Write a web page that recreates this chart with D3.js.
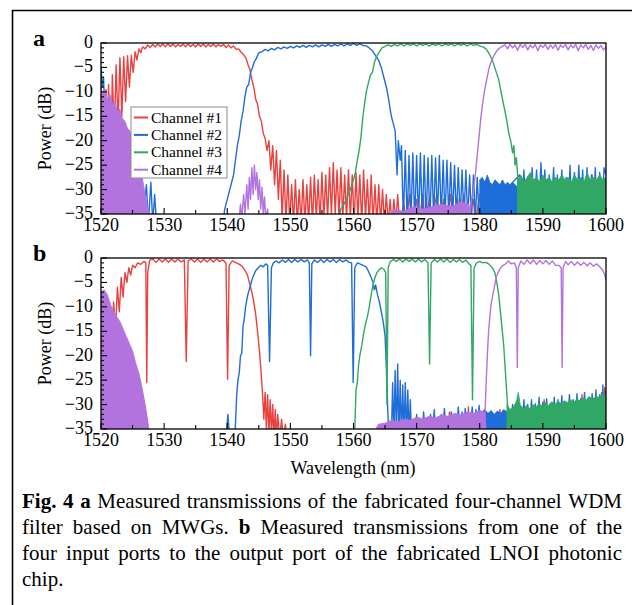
<!DOCTYPE html>
<html>
<head>
<meta charset="utf-8">
<script src="https://cdn.jsdelivr.net/npm/d3@7"></script>
<style>
  body { margin: 0; background: #fff; }
  text { font-family: "Liberation Serif", "Times New Roman", serif; fill: #000; }
</style>
</head>
<body>
<svg id="fig" width="632" height="605"></svg>
<script>
// channel names and colours
const channels = ['Channel #1', 'Channel #2', 'Channel #3', 'Channel #4'];
const colors = ['#e8413f', '#1f6dd8', '#31a766', '#b273de'];

// axis ticks
const xLabels = [1520, 1530, 1540, 1550, 1560, 1570, 1580, 1590, 1600];
const xMinor = [1525, 1535, 1545, 1555, 1565, 1575, 1585, 1595];
const yLabels = [0, -5, -10, -15, -20, -25, -30, -35];

// ---- panel a : [wavelength nm, power dB] ----
const aRed = [[1520,-9],[1520.2,-13],[1520.4,-10],[1520.6,-17],[1520.8,-9.5],[1521,-22],[1521.2,-8.5],[1521.5,-28],[1521.8,-6.5],[1522.1,-19],[1522.4,-4.5],[1522.7,-17],[1523,-3],[1523.3,-15],[1523.6,-2.8],[1523.9,-12],[1524.2,-2.6],[1524.5,-9],[1524.8,-2.5],[1525.1,-6],[1525.4,-1.8],[1525.7,-3.5],[1526,-1.2],[1526.3,-2],[1526.6,-0.8],[1527,-1.2],[1527.4,-0.4],[1527.8,-0.9],[1528.2,-0.3],[1528.6,-0.8],[1529,-0.2],[1529.4,-0.7],[1529.8,-0.2],[1530.2,-0.8],[1530.6,-0.2],[1531,-0.7],[1531.4,-0.2],[1531.8,-0.8],[1532.2,-0.3],[1532.6,-0.7],[1533,-0.2],[1533.4,-0.8],[1533.8,-0.2],[1534.2,-0.7],[1534.6,-0.3],[1535,-0.8],[1535.4,-0.2],[1535.8,-0.7],[1536.2,-0.2],[1536.6,-0.8],[1537,-0.3],[1537.4,-0.7],[1537.8,-0.2],[1538.2,-0.8],[1538.6,-0.3],[1539,-0.7],[1539.4,-0.3],[1539.8,-0.9],[1540.2,-0.4],[1540.6,-1],[1541,-0.6],[1541.4,-1.3],[1541.8,-1.2],[1542.2,-1.9],[1542.6,-2.4],[1543,-3.2],[1543.3,-4.5],[1543.6,-5.5],[1543.9,-7.5],[1544.2,-9],[1544.5,-11.5],[1544.8,-12.5],[1545.1,-15],[1545.4,-16],[1545.7,-18.5],[1546,-19.5],[1546.3,-22],[1546.6,-20],[1546.9,-26],[1547.2,-21],[1547.5,-29],[1547.8,-22],[1548.1,-32],[1548.4,-24],[1548.7,-36],[1549,-26],[1549.3,-37],[1549.6,-27],[1549.9,-37],[1550.2,-29],[1550.5,-37],[1550.8,-28],[1551.1,-37],[1551.4,-30],[1551.7,-37],[1552,-28],[1552.3,-37],[1552.6,-29],[1552.9,-37],[1553.2,-27.5],[1553.5,-37],[1553.8,-27],[1554.1,-36],[1554.4,-28],[1554.7,-37],[1555,-26.5],[1555.3,-36],[1555.6,-27],[1555.9,-36],[1556.2,-25.5],[1556.5,-35],[1556.8,-24.5],[1557.1,-35],[1557.4,-26],[1557.7,-36],[1558,-25.5],[1558.3,-36],[1558.6,-27],[1558.9,-36],[1559.2,-26],[1559.5,-36],[1559.8,-27],[1560.1,-37],[1560.4,-26.5],[1560.7,-36],[1561,-27],[1561.3,-37],[1561.6,-26],[1561.9,-36],[1562.2,-28],[1562.5,-37],[1562.8,-27],[1563.1,-37],[1563.4,-29],[1563.7,-37],[1564,-29],[1564.3,-37],[1564.6,-30],[1564.9,-37],[1565.2,-31],[1565.5,-37],[1565.8,-32],[1566.1,-37],[1566.4,-32],[1566.7,-37],[1567,-31],[1567.3,-37],[1568,-33],[1568.3,-37],[1568.9,-31],[1569.2,-37],[1570,-32],[1570.3,-37],[1571,-31],[1571.3,-37],[1572,-32],[1572.3,-37],[1573.2,-31],[1573.5,-37],[1574.3,-32],[1574.6,-37],[1575.4,-31],[1575.7,-37],[1576.5,-32],[1576.8,-37],[1577.5,-31],[1577.8,-37],[1579,-32],[1579.3,-37],[1580,-31],[1580.3,-37],[1597.5,-37],[1597.8,-27],[1598.1,-37]];

const aBlue = [[1520,-5],[1520.2,-9],[1520.4,-7],[1520.6,-14],[1520.8,-12],[1521,-25],[1521.2,-20],[1521.4,-30],[1521.6,-28],[1521.8,-37],[1524.5,-37],[1524.8,-18.5],[1525.1,-37],[1525.5,-21.5],[1525.8,-37],[1526.3,-25.5],[1526.6,-37],[1527.2,-29],[1527.5,-37],[1527.9,-28.5],[1528.2,-37],[1528.5,-31],[1528.8,-37],[1539.3,-37],[1539.6,-34],[1540,-32],[1540.4,-30],[1540.7,-28.5],[1541,-27],[1541.3,-24],[1541.6,-21],[1541.9,-19],[1542.2,-16],[1542.5,-14],[1542.8,-11],[1543.1,-9],[1543.4,-8.5],[1543.7,-6],[1544,-5],[1544.3,-3.8],[1544.6,-3.2],[1545,-2],[1545.5,-1.8],[1546,-1.3],[1546.5,-1.6],[1547,-1.1],[1547.5,-1.4],[1548,-0.9],[1548.5,-1.2],[1549,-0.8],[1549.5,-1.1],[1550,-0.7],[1550.5,-1],[1551,-0.6],[1551.5,-0.9],[1552,-0.5],[1552.5,-0.9],[1553,-0.5],[1553.5,-0.8],[1554,-0.4],[1554.5,-0.8],[1555,-0.4],[1555.5,-0.7],[1556,-0.3],[1556.5,-0.7],[1557,-0.3],[1557.5,-0.6],[1558,-0.2],[1558.5,-0.6],[1559,-0.2],[1559.5,-0.5],[1560,-0.1],[1560.5,-0.5],[1561,-0.2],[1561.5,-0.5],[1562,-0.6],[1562.4,-0.9],[1563,-1.6],[1563.5,-2.6],[1564,-3.6],[1564.4,-5],[1564.8,-7],[1565.2,-9],[1565.5,-11],[1565.8,-13.5],[1566,-15],[1566.3,-16.5],[1566.6,-18],[1566.9,-27],[1567.1,-20],[1567.4,-24],[1567.6,-21],[1567.9,-37],[1568.2,-22],[1568.5,-37],[1568.8,-23],[1569.1,-37],[1569.4,-22.5],[1569.7,-37],[1570,-23],[1570.3,-37],[1570.6,-22.5],[1570.9,-37],[1571.2,-23],[1571.5,-37],[1571.8,-23.5],[1572.1,-37],[1572.4,-23],[1572.7,-36],[1573,-23.5],[1573.3,-36],[1573.6,-23],[1573.9,-36],[1574.2,-24],[1574.5,-36],[1574.8,-24],[1575.1,-36],[1575.4,-24.5],[1575.7,-36],[1576,-25],[1576.3,-36],[1576.6,-25.5],[1576.9,-36],[1577.2,-26],[1577.5,-36],[1577.8,-26],[1578.1,-36],[1578.4,-27],[1578.7,-36],[1579,-27],[1579.3,-36],[1579.6,-27.5],[1579.9,-36],[1586.3,-27],[1586.6,-36],[1587,-26],[1587.3,-36],[1587.7,-27.5],[1588,-36],[1588.3,-25.5],[1588.6,-36],[1589,-26],[1589.3,-36],[1589.7,-24.5],[1590,-36],[1590.3,-26],[1590.6,-36],[1591,-27],[1591.3,-36],[1591.7,-25.5],[1592,-36],[1592.3,-27],[1592.6,-36],[1593,-26],[1593.3,-36],[1593.7,-27.5],[1594,-36],[1594.3,-25],[1594.6,-36],[1595,-26.5],[1595.3,-36],[1595.7,-25],[1596,-36],[1596.3,-26],[1596.6,-36],[1597,-25.5],[1597.3,-36],[1597.7,-27],[1598,-36],[1598.3,-25.5],[1598.6,-36],[1599,-26.5],[1599.3,-36],[1599.7,-25.5],[1600,-27]];
const aBlueBlock = [[1580,-28],[1580.4,-27.5],[1580.8,-28.5],[1581.2,-27],[1581.6,-28.5],[1582,-29],[1582.4,-28],[1582.8,-28.5],[1583.2,-29],[1583.6,-28],[1584,-29],[1584.4,-28.5],[1584.8,-29],[1585.2,-28.5],[1585.6,-29],[1586,-29.5]];

const aGreen = [[1520,-25],[1520.2,-37],[1520.4,-26],[1520.6,-35],[1520.8,-27],[1521,-37],[1524.8,-37],[1525.1,-16],[1525.4,-37],[1525.7,-18.5],[1526,-37],[1526.3,-22],[1526.6,-37],[1557.5,-37],[1558,-34],[1558.5,-33],[1559,-31.5],[1559.5,-30],[1560,-28],[1560.3,-26.5],[1560.6,-24],[1560.9,-22],[1561.2,-19],[1561.5,-15],[1561.8,-12],[1562.1,-9.5],[1562.4,-8],[1562.7,-6.5],[1563,-6],[1563.3,-4],[1563.6,-3],[1564,-2],[1564.5,-1],[1565,-0.7],[1565.5,-0.4],[1566,-0.7],[1566.5,-0.3],[1567,-0.6],[1567.5,-0.2],[1568,-0.6],[1568.5,-0.2],[1569,-0.5],[1569.5,-0.2],[1570,-0.6],[1570.5,-0.2],[1571,-0.5],[1571.5,-0.2],[1572,-0.6],[1572.5,-0.2],[1573,-0.5],[1573.5,-0.2],[1574,-0.6],[1574.5,-0.2],[1575,-0.5],[1575.5,-0.2],[1576,-0.6],[1576.5,-0.2],[1577,-0.5],[1577.5,-0.2],[1578,-0.6],[1578.5,-0.2],[1579,-0.5],[1579.5,-0.3],[1580,-0.6],[1580.5,-0.8],[1581,-1.2],[1581.5,-2.2],[1582,-3.5],[1582.5,-5.5],[1583,-7.5],[1583.3,-9.5],[1583.6,-11.5],[1584,-14],[1584.3,-16],[1584.6,-18.5],[1584.9,-20],[1585.2,-22.5],[1585.4,-21],[1585.6,-25],[1585.8,-23.5],[1586,-27],[1586.2,-37]];
const aGreenBlock = [[1586,-28],[1586.5,-27],[1587,-28.5],[1587.5,-27.5],[1588,-26.5],[1588.5,-28],[1589,-27.5],[1589.5,-28.5],[1590,-27],[1590.5,-28],[1591,-27.5],[1591.5,-28.5],[1592,-27.5],[1592.5,-28],[1593,-27],[1593.5,-28],[1594,-27.5],[1594.5,-28.5],[1595,-27],[1595.5,-28],[1596,-27.5],[1596.5,-28.5],[1597,-26.5],[1597.5,-28],[1598,-27.5],[1598.5,-28],[1599,-27],[1599.5,-28],[1600,-27.5]];

const aPurple = [[1541.8,-37],[1542.1,-33],[1542.3,-36],[1542.6,-31],[1542.8,-35],[1543.1,-29],[1543.3,-34],[1543.5,-27.5],[1543.7,-32],[1543.9,-25.5],[1544.1,-31],[1544.3,-25],[1544.5,-30],[1544.7,-26.5],[1544.9,-32],[1545.1,-28],[1545.3,-34],[1545.5,-29.5],[1545.7,-35],[1545.9,-31.5],[1546.1,-36],[1546.4,-34],[1546.6,-37],[1578.3,-37],[1578.6,-33],[1579,-30],[1579.3,-27],[1579.6,-23],[1579.9,-19],[1580.2,-15],[1580.5,-12],[1580.8,-9.5],[1581.1,-7.5],[1581.5,-5],[1581.9,-3.5],[1582.3,-2.5],[1582.7,-1.6],[1583.2,-1],[1583.7,-0.6],[1584,-0.4],[1584.4,-1.2],[1584.8,-0.3],[1585.2,-1],[1585.6,-0.4],[1586,-1.5],[1586.4,-0.3],[1586.8,-0.9],[1587.2,-0.3],[1587.6,-1.4],[1588,-0.4],[1588.4,-1],[1588.8,-0.3],[1589.2,-1.6],[1589.6,-0.4],[1590,-0.9],[1590.4,-0.3],[1590.8,-1.3],[1591.2,-0.4],[1591.6,-1.1],[1592,-0.3],[1592.4,-1.5],[1592.8,-0.4],[1593.2,-0.9],[1593.6,-0.3],[1594,-1.4],[1594.4,-0.4],[1594.8,-1],[1595.2,-0.3],[1595.6,-1.6],[1596,-0.4],[1596.4,-1],[1596.8,-0.3],[1597.2,-1.3],[1597.6,-0.5],[1598,-1.5],[1598.4,-0.4],[1598.8,-1.1],[1599.2,-0.5],[1599.6,-1.4],[1600,-0.8]];
const aPurpleLeft = [[1520,-9],[1520.3,-11],[1520.6,-9.5],[1521,-11.5],[1521.4,-10.5],[1521.8,-12.5],[1522.2,-12],[1522.6,-14],[1523,-13.5],[1523.4,-15.5],[1523.8,-16],[1524.2,-17.5],[1524.6,-18],[1525,-20],[1525.4,-21.5],[1525.8,-24],[1526.2,-25.5],[1526.6,-28],[1527,-31],[1527.3,-33],[1527.6,-35]];
const aPurpleFloor = [[1566,-35],[1566.5,-34],[1568,-34.5],[1569.5,-33.5],[1571,-34],[1572.5,-33.5],[1574,-33],[1575.5,-33.5],[1577,-32.5],[1578.3,-33],[1578.6,-35]];

// ---- panel b ----
const bRed = [[1520.5,-37],[1520.8,-14],[1521.1,-20],[1521.4,-12],[1521.7,-15],[1522,-9],[1522.3,-15],[1522.6,-6],[1522.9,-11],[1523.2,-4],[1523.5,-8],[1523.8,-3],[1524.1,-5],[1524.4,-2],[1524.7,-3.5],[1525,-1.5],[1525.4,-2],[1525.8,-1],[1526.3,-1.3],[1526.8,-0.7],[1527.1,-1],[1527.25,-25.5],[1527.4,-3],[1527.7,-0.5],[1528.2,-0.2],[1528.7,-0.9],[1529.2,-0.2],[1529.7,-0.8],[1530.2,-0.2],[1530.7,-0.9],[1531.2,-0.2],[1531.7,-0.8],[1532.2,-0.2],[1532.7,-0.8],[1533.2,-0.4],[1533.5,-21.2],[1533.8,-0.6],[1534.3,-0.2],[1534.8,-0.8],[1535.3,-0.2],[1535.8,-0.9],[1536.3,-0.2],[1536.8,-0.8],[1537.3,-0.2],[1537.8,-0.8],[1538.3,-0.2],[1538.8,-0.7],[1539.3,-0.4],[1539.8,-1],[1540.05,-24.8],[1540.3,-1.5],[1540.8,-0.6],[1541.3,-0.9],[1541.8,-1.2],[1542.3,-1.6],[1542.8,-2.5],[1543.2,-3.5],[1543.6,-5.5],[1543.9,-7],[1544.2,-9],[1544.5,-11.5],[1544.8,-15],[1545.1,-19],[1545.4,-24],[1545.6,-28],[1545.8,-33],[1545.9,-30],[1546,-27.5],[1546.2,-35],[1546.4,-28],[1546.6,-36],[1546.8,-29],[1547,-36],[1547.2,-30],[1547.4,-37],[1547.6,-31],[1547.8,-37],[1548,-32],[1548.3,-37],[1548.6,-33],[1548.9,-37],[1549.2,-34],[1549.5,-37],[1575,-37],[1575.2,-31.5],[1575.4,-37],[1578,-37],[1578.2,-30.5],[1578.4,-37],[1583,-37],[1583.2,-31],[1583.4,-37],[1590,-37],[1590.2,-29],[1590.4,-37],[1596,-37],[1596.2,-28],[1596.4,-37],[1599,-37],[1599.3,-27.5],[1599.6,-37],[1599.8,-26.5],[1600,-28]];

const bBlue = [[1520,-7.5],[1520.5,-8.5],[1521,-10],[1521.5,-11.5],[1522,-13],[1522.5,-14],[1523,-15.5],[1523.5,-16.5],[1524,-18],[1524.5,-19.5],[1525,-21],[1525.5,-23],[1526,-25],[1526.5,-27.5],[1527,-31],[1527.3,-33.5],[1527.6,-37],[1539.8,-37],[1540.1,-32],[1540.4,-37],[1541.2,-37],[1541.5,-28],[1541.7,-25],[1541.9,-23.5],[1542.1,-20],[1542.3,-19.5],[1542.5,-14],[1542.7,-12.5],[1542.9,-10],[1543.1,-8.5],[1543.3,-7.3],[1543.6,-6],[1543.9,-4.5],[1544.2,-3.5],[1544.5,-2.6],[1544.9,-2],[1545.3,-1.5],[1545.7,-1.8],[1546.1,-1.2],[1546.4,-1.5],[1546.7,-21.2],[1547,-2],[1547.3,-1],[1547.7,-0.6],[1548.2,-1],[1548.7,-0.4],[1549.2,-0.9],[1549.7,-0.3],[1550.2,-0.9],[1550.7,-0.3],[1551.2,-0.8],[1551.7,-0.3],[1552.2,-0.8],[1552.7,-0.4],[1553,-1],[1553.2,-20],[1553.4,-1.2],[1553.8,-0.4],[1554.3,-0.9],[1554.8,-0.3],[1555.3,-0.9],[1555.8,-0.3],[1556.3,-0.8],[1556.8,-0.3],[1557.3,-0.9],[1557.8,-0.3],[1558.3,-0.8],[1558.8,-0.4],[1559.3,-0.9],[1559.7,-1],[1559.95,-25.5],[1560.2,-2],[1560.6,-1],[1561,-1.2],[1561.5,-1.5],[1562,-1.8],[1562.4,-2.8],[1562.8,-4],[1563.1,-5],[1563.3,-6.5],[1563.5,-5.5],[1563.8,-7.5],[1564.1,-9],[1564.4,-11],[1564.7,-13],[1565,-16],[1565.2,-22],[1565.4,-30],[1565.6,-37],[1566,-37],[1566.2,-25.5],[1566.4,-37],[1566.6,-23],[1566.8,-37],[1567,-21.7],[1567.2,-37],[1567.4,-25],[1567.6,-37],[1567.8,-26],[1568,-37],[1568.2,-25.5],[1568.4,-37],[1568.6,-27],[1568.8,-37],[1569,-29],[1569.2,-37],[1569.5,-33],[1569.8,-36],[1570,-32],[1570.3,-36],[1570.6,-33.5],[1570.9,-36],[1571.1,-31.5],[1571.4,-36],[1571.7,-33],[1572,-36],[1572.2,-32],[1572.5,-36],[1572.8,-31],[1573,-36],[1573.3,-33],[1573.6,-36],[1573.9,-32],[1574.1,-36],[1574.4,-30.8],[1574.7,-36],[1575,-32.5],[1575.2,-36],[1575.5,-31.5],[1575.8,-36],[1576.1,-32],[1576.3,-36],[1576.6,-30.5],[1576.9,-36],[1577.2,-31.5],[1577.4,-36],[1577.7,-30.8],[1578,-36],[1578.3,-31.8],[1578.5,-36],[1578.8,-30.5],[1579.1,-36],[1579.4,-31],[1579.6,-36],[1579.9,-30.2],[1580.2,-36],[1584.9,-36],[1585.2,-30],[1585.5,-36],[1585.8,-29.5],[1586.1,-36],[1586.4,-30.5],[1586.7,-36],[1587,-29],[1587.3,-36],[1587.6,-30],[1587.9,-36],[1588.2,-29],[1588.5,-36],[1588.8,-29.8],[1589.1,-36],[1589.4,-28.5],[1589.7,-36],[1590,-29.5],[1590.3,-36],[1590.6,-28.8],[1590.9,-36],[1591.2,-29.8],[1591.5,-36],[1591.8,-28.5],[1592.1,-36],[1592.4,-29],[1592.7,-36],[1593,-28.2],[1593.3,-36],[1593.6,-29.5],[1593.9,-36],[1594.2,-28],[1594.5,-36],[1594.8,-29],[1595.1,-36],[1595.4,-27.8],[1595.7,-36],[1596,-28.8],[1596.3,-36],[1596.6,-27.5],[1596.9,-36],[1597.2,-28.5],[1597.5,-36],[1597.8,-27.8],[1598.1,-36],[1598.4,-27],[1598.7,-36],[1599,-28],[1599.3,-36],[1599.5,-26],[1599.8,-36],[1600,-27]];
const bBlueBlock = [[1580.3,-31.5],[1580.8,-31],[1581.3,-31.8],[1581.8,-31.2],[1582.3,-32],[1582.8,-31.3],[1583.3,-31.8],[1583.8,-31],[1584.3,-31.5],[1584.6,-32]];

const bGreen = [[1520,-8],[1520.5,-9],[1521,-10.5],[1521.5,-11.8],[1522,-13.3],[1522.5,-14.3],[1523,-15.8],[1523.5,-16.8],[1524,-17.5],[1524.5,-19.8],[1525,-21.3],[1525.5,-23.3],[1526,-25.3],[1526.5,-27.8],[1527,-31.3],[1527.3,-34],[1527.5,-37],[1560,-37],[1560.2,-35],[1560.4,-27],[1560.6,-25.5],[1560.8,-22],[1561,-20],[1561.3,-18],[1561.6,-15.5],[1561.9,-13.5],[1562.2,-12],[1562.5,-10],[1562.8,-7.5],[1563.1,-5.5],[1563.4,-4],[1563.7,-3],[1564,-2.5],[1564.4,-2],[1564.8,-2.3],[1565.1,-3],[1565.3,-30],[1565.5,-2],[1565.8,-0.8],[1566.3,-0.3],[1566.8,-0.7],[1567.3,-0.2],[1567.8,-0.8],[1568.3,-0.2],[1568.8,-0.7],[1569.3,-0.2],[1569.8,-0.8],[1570.3,-0.2],[1570.8,-0.8],[1571.3,-0.3],[1571.8,-1],[1572.05,-21.7],[1572.3,-1],[1572.8,-0.3],[1573.3,-0.8],[1573.8,-0.2],[1574.3,-0.8],[1574.8,-0.2],[1575.3,-0.9],[1575.8,-0.3],[1576.3,-0.8],[1576.8,-0.3],[1577.3,-0.9],[1577.8,-0.4],[1578.3,-1.2],[1578.6,-1.5],[1578.85,-29],[1579.1,-2],[1579.5,-1],[1580,-0.7],[1580.5,-1],[1581,-0.9],[1581.5,-1.3],[1582,-2],[1582.4,-3],[1582.7,-5],[1583,-7.5],[1583.2,-10],[1583.5,-14],[1583.8,-18],[1584,-22],[1584.2,-26],[1584.4,-30],[1584.6,-37]];
const bGreenBlock = [[1584.3,-30],[1584.8,-31],[1585.3,-30.5],[1585.8,-29.5],[1586.1,-27.5],[1586.4,-30],[1586.9,-30.8],[1587.4,-30.2],[1587.9,-30.8],[1588.4,-30],[1588.9,-30.5],[1589.4,-29.8],[1589.9,-30.3],[1590.4,-29.6],[1590.9,-30.2],[1591.4,-29.4],[1591.9,-30],[1592.4,-29.3],[1592.9,-29.8],[1593.4,-29.2],[1593.9,-29.6],[1594.4,-29],[1594.9,-29.5],[1595.4,-28.8],[1595.9,-29.3],[1596.4,-28.6],[1596.9,-29],[1597.4,-28.4],[1597.9,-28.9],[1598.4,-28.2],[1598.9,-28.6],[1599.4,-27.8],[1600,-28.3]];

const bPurple = [[1580.5,-37],[1580.8,-33],[1581,-26],[1581.2,-20],[1581.4,-15],[1581.6,-12],[1581.8,-9.5],[1582,-8],[1582.3,-6],[1582.6,-4],[1582.9,-3],[1583.3,-2],[1583.7,-1.5],[1584.1,-1.2],[1584.5,-0.6],[1585,-1.2],[1585.5,-1],[1585.8,-2],[1585.95,-22.4],[1586.1,-2],[1586.5,-0.6],[1587,-1.3],[1587.5,-0.4],[1588,-1.2],[1588.5,-0.4],[1589,-1.3],[1589.5,-0.5],[1590,-1.2],[1590.5,-0.5],[1591,-1.3],[1591.5,-0.6],[1592,-1.5],[1592.5,-1.5],[1592.9,-2],[1593.05,-22.4],[1593.2,-2],[1593.6,-0.7],[1594,-1.4],[1594.5,-0.7],[1595,-1.5],[1595.5,-0.8],[1596,-1.5],[1596.5,-0.9],[1597,-1.6],[1597.5,-1],[1598,-1.7],[1598.5,-1.2],[1599,-1.8],[1599.5,-2.5],[1599.8,-3.5],[1600,-4.5]];
const bPurpleLeft = [[1520,-7],[1520.5,-6.5],[1521,-7.5],[1521.5,-9.5],[1522,-11],[1522.5,-12],[1523,-13],[1523.5,-14.5],[1524,-16],[1524.5,-17.5],[1525,-19],[1525.5,-21.5],[1526,-23.5],[1526.5,-26.5],[1527,-30],[1527.3,-32.5],[1527.6,-35]];
const bPurpleFloor = [[1563.5,-35],[1564,-34],[1565,-33.8],[1566,-33.2],[1567,-33.5],[1568,-33],[1569,-33.2],[1570,-32.6],[1571,-32.9],[1572,-32.4],[1573,-32.7],[1574,-32.1],[1575,-32.4],[1576,-31.8],[1577,-32.1],[1578,-31.5],[1579,-31.8],[1580,-31.2],[1580.8,-31.6],[1581,-35]];

// caption lines ('*' marks a bold word)
const captionLines = [
  '*Fig. *4 *a Measured transmissions of the fabricated four-channel WDM',
  'filter based on MWGs. *b Measured transmissions from one of the',
  'four input ports to the output port of the fabricated LNOI photonic',
  'chip.'
];

const svg = d3.select('#fig');

// outer frame of the figure (open on the right)
svg.append('path')
    .attr('d', 'M632,10.5H12.5V605')
    .attr('fill', 'none')
    .attr('stroke', '#000')
    .attr('stroke-width', 1.6);

function drawPanel(top, label, lines, bands, withLegend) {
    const left = 101, right = 606, h = 171;
    const x = d3.scaleLinear().domain([1520, 1600]).range([left, right]);
    const y = d3.scaleLinear().domain([-35, 0]).range([top + h, top]);

    const clipId = 'clip-' + label;
    svg.append('clipPath').attr('id', clipId)
        .append('rect')
        .attr('x', left).attr('y', top)
        .attr('width', right - left).attr('height', h);

    const plot = svg.append('g').attr('clip-path', `url(#${clipId})`);
    const line = d3.line().x(d => x(d[0])).y(d => y(d[1]));
    const area = d3.area().x(d => x(d[0])).y0(y(-35) + 2).y1(d => y(d[1]));

    // draw channel by channel so later channels sit on top
    lines.forEach((pts, i) => {
        plot.append('path')
            .attr('d', line(pts))
            .attr('fill', 'none')
            .attr('stroke', colors[i])
            .attr('stroke-width', 1.4)
            .attr('stroke-linejoin', 'round');
        bands[i].forEach(b => {
            plot.append('path')
                .attr('d', area(b))
                .attr('fill', colors[i])
                .attr('stroke', colors[i])
                .attr('stroke-width', 0.8);
        });
    });

    // frame
    svg.append('rect')
        .attr('x', left).attr('y', top)
        .attr('width', right - left).attr('height', h)
        .attr('fill', 'none')
        .attr('stroke', '#000')
        .attr('stroke-width', 1.3);

    const ticks = svg.append('g').attr('stroke', '#000').attr('stroke-width', 1.1);
    xLabels.forEach(v => ticks.append('line')
        .attr('x1', x(v)).attr('x2', x(v)).attr('y1', top + h).attr('y2', top + h - 6));
    xMinor.forEach(v => ticks.append('line')
        .attr('x1', x(v)).attr('x2', x(v)).attr('y1', top + h).attr('y2', top + h - 4));
    d3.range(-35, 1).forEach(v => ticks.append('line')
        .attr('x1', left).attr('x2', left + (v % 5 === 0 ? 6 : 3))
        .attr('y1', y(v)).attr('y2', y(v)));

    // tick labels
    xLabels.forEach(v => svg.append('text')
        .attr('x', x(v)).attr('y', top + h + 17)
        .attr('text-anchor', 'middle')
        .style('font-size', '18px')
        .text(v));
    yLabels.forEach(v => svg.append('text')
        .attr('x', left - 8).attr('y', y(v) + 5)
        .attr('text-anchor', 'end')
        .style('font-size', '18px')
        .text(v === 0 ? '0' : '\u2212' + Math.abs(v)));

    svg.append('text')
        .attr('transform', `translate(51,${top + h / 2}) rotate(-90)`)
        .attr('text-anchor', 'middle')
        .style('font-size', '18px')
        .text('Power (dB)');

    svg.append('text')
        .attr('x', 33).attr('y', top + 3)
        .style('font-size', '24px')
        .style('font-weight', 'bold')
        .text(label);

    if (withLegend) {
        const lg = svg.append('g');
        lg.append('rect')
            .attr('x', 131).attr('y', 107)
            .attr('width', 96).attr('height', 71)
            .attr('fill', '#fff')
            .attr('stroke', '#8c8c8c')
            .attr('stroke-width', 1);
        channels.forEach((c, i) => {
            const yy = 117.5 + i * 17.4;
            lg.append('line')
                .attr('x1', 134).attr('x2', 148)
                .attr('y1', yy).attr('y2', yy)
                .attr('stroke', colors[i]).attr('stroke-width', 2);
            lg.append('text')
                .attr('x', 151).attr('y', yy + 5)
                .style('font-size', '15.5px')
                .text(c);
        });
    }
}

drawPanel(43, 'a', [aRed, aBlue, aGreen, aPurple],
    [[], [aBlueBlock], [aGreenBlock], [aPurpleLeft, aPurpleFloor]], true);
drawPanel(258, 'b', [bRed, bBlue, bGreen, bPurple],
    [[], [bBlueBlock], [bGreenBlock], [bPurpleLeft, bPurpleFloor]], false);

svg.append('text')
    .attr('x', 353).attr('y', 474)
    .attr('text-anchor', 'middle')
    .style('font-size', '18px')
    .text('Wavelength (nm)');

// justified caption
const capLeft = 22, capRight = 622;
captionLines.forEach((ln, li) => {
    const yy = 508 + li * 26;
    const words = ln.split(' ').map(w => ({ t: w.replace('*', ''), bold: w.startsWith('*') }));
    const nodes = words.map(w => svg.append('text')
        .attr('y', yy)
        .style('font-size', '21px')
        .style('font-weight', w.bold ? 'bold' : 'normal')
        .text(w.t));
    const widths = nodes.map(n => n.node().getComputedTextLength());
    const last = li === captionLines.length - 1;
    const gap = last ? 5 : (capRight - capLeft - d3.sum(widths)) / (words.length - 1);
    let cx = capLeft;
    nodes.forEach((n, i) => {
        n.attr('x', cx);
        cx += widths[i] + gap;
    });
});
</script>
</body>
</html>
